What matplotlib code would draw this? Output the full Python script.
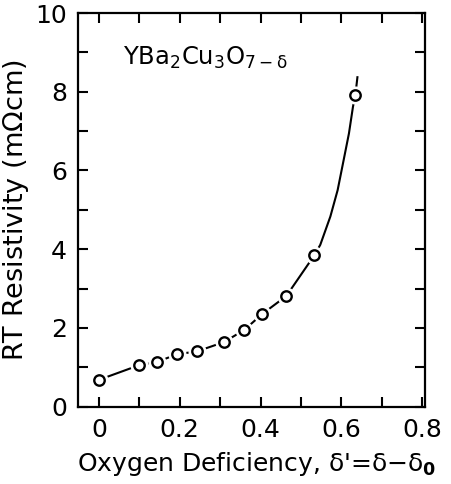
import numpy as np
import matplotlib
matplotlib.use('Agg')
import matplotlib.pyplot as plt
from matplotlib.ticker import MultipleLocator

# measured points
delta = [0.0, 0.099, 0.143, 0.193, 0.242, 0.31, 0.36, 0.404, 0.464, 0.533, 0.635]
rho = [0.68, 1.05, 1.13, 1.33, 1.40, 1.64, 1.95, 2.35, 2.81, 3.84, 7.92]

# guide curve
curve_x = [0.0, 0.099, 0.143, 0.193, 0.242, 0.31, 0.36, 0.404, 0.464, 0.533,
           0.548, 0.573, 0.591, 0.606, 0.619, 0.629, 0.635, 0.640]
curve_y = [0.68, 1.05, 1.13, 1.33, 1.40, 1.64, 1.95, 2.35, 2.81, 3.84,
           4.11, 4.83, 5.50, 6.27, 6.94, 7.62, 7.92, 8.37]

plt.rcParams['font.family'] = 'DejaVu Sans'
plt.rcParams['mathtext.fontset'] = 'dejavusans'

fig = plt.figure(figsize=(4.51, 4.84), dpi=100)
ax = fig.add_axes([0.173, 0.160, 0.769, 0.813])

ax.plot(curve_x, curve_y, color='k', lw=1.5, zorder=2)
# white halo so the line stops short of each circle
ax.plot(delta, rho, ls='none', marker='o', ms=12, mfc='white', mec='white', zorder=3)
ax.plot(delta, rho, ls='none', marker='o', ms=7.5, mfc='white', mec='k', mew=1.7, zorder=4)

ax.set_xlim(-0.052, 0.807)
ax.set_ylim(0, 10)
ax.xaxis.set_major_locator(MultipleLocator(0.2))
ax.xaxis.set_minor_locator(MultipleLocator(0.1))
ax.yaxis.set_major_locator(MultipleLocator(2))
ax.yaxis.set_minor_locator(MultipleLocator(1))
ax.set_xticks([0, 0.2, 0.4, 0.6, 0.8])
ax.set_xticklabels(['0', '0.2', '0.4', '0.6', '0.8'])
ax.tick_params(which='both', direction='in', top=True, right=True,
               length=7, width=1.5, labelsize=18, pad=8)
for s in ax.spines.values():
    s.set_linewidth(1.6)

ax.set_xlabel(r"Oxygen Deficiency, δ'=δ$-$δ$_\mathbf{0}$", fontsize=18)
ax.xaxis.set_label_coords(0.515, -0.11)
ax.set_ylabel(r'RT Resistivity (m$\Omega$cm)', fontsize=19.5, labelpad=3)
ax.text(0.06, 8.68, r'YBa$_2$Cu$_3$O$_{\mathrm{7-δ}}$', fontsize=17.5)

plt.savefig('out.png', dpi=100)
